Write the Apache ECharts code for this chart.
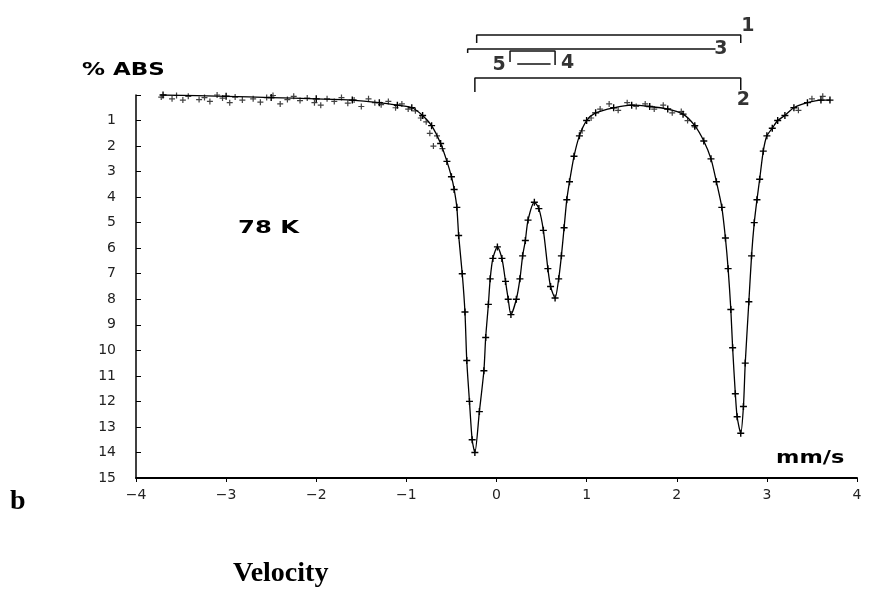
<!DOCTYPE html>
<html>
<head>
<meta charset="utf-8">
<script src="https://cdn.jsdelivr.net/npm/echarts@6/dist/echarts.min.js"></script>
<style>
  html, body { margin: 0; padding: 0; background: #fff; }
  #chart { width: 869px; height: 595px; }
</style>
</head>
<body>
<div id="chart"></div>
<script>
// velocity (mm/s) -> % absorption, fitted curve
const fitVelocity = [-3.7, -3.0, -2.5, -2.0, -1.6, -1.3, -1.1, -0.94, -0.82, -0.72, -0.62, -0.55, -0.5, -0.47, -0.44, -0.42, -0.38, -0.35, -0.33, -0.30, -0.27, -0.24, -0.19, -0.14, -0.12, -0.09, -0.07, -0.04, 0.01, 0.06, 0.10, 0.13, 0.16, 0.22, 0.26, 0.29, 0.32, 0.35, 0.42, 0.47, 0.52, 0.57, 0.60, 0.65, 0.69, 0.72, 0.75, 0.78, 0.81, 0.86, 0.92, 1.0, 1.1, 1.3, 1.5, 1.7, 1.9, 2.07, 2.2, 2.3, 2.38, 2.44, 2.5, 2.54, 2.57, 2.6, 2.62, 2.65, 2.67, 2.71, 2.74, 2.76, 2.80, 2.83, 2.86, 2.89, 2.92, 2.96, 3.0, 3.06, 3.12, 3.2, 3.3, 3.45, 3.6, 3.7];
const fitAbs = [0.0, 0.05, 0.1, 0.15, 0.2, 0.3, 0.4, 0.5, 0.8, 1.2, 1.9, 2.6, 3.2, 3.7, 4.4, 5.5, 7.0, 8.5, 10.4, 12.0, 13.5, 14.0, 12.4, 10.8, 9.5, 8.2, 7.2, 6.4, 5.95, 6.4, 7.3, 8.0, 8.6, 8.0, 7.2, 6.3, 5.7, 4.9, 4.2, 4.45, 5.3, 6.8, 7.5, 7.95, 7.2, 6.3, 5.2, 4.1, 3.4, 2.4, 1.6, 1.0, 0.7, 0.5, 0.4, 0.45, 0.55, 0.75, 1.2, 1.8, 2.5, 3.4, 4.4, 5.6, 6.8, 8.4, 9.9, 11.7, 12.6, 13.25, 12.2, 10.5, 8.1, 6.3, 5.0, 4.1, 3.3, 2.2, 1.6, 1.3, 1.0, 0.8, 0.5, 0.3, 0.2, 0.2];

// scattered measured points off the fit (baseline noise)
const noiseVelocity = [-3.78, -3.72, -3.66, -3.6, -3.55, -3.48, -3.42, -3.36, -3.3, -3.24, -3.18, -3.1, -3.04, -2.96, -2.9, -2.82, -2.76, -2.7, -2.62, -2.55, -2.48, -2.4, -2.32, -2.25, -2.18, -2.1, -2.02, -1.95, -1.88, -1.8, -1.72, -1.65, -1.58, -1.5, -1.42, -1.35, -1.28, -1.2, -1.12, -1.05, -0.98, -0.9, -0.84, -0.78, -0.74, -0.7, -0.66, -0.6, 0.95, 1.05, 1.15, 1.25, 1.35, 1.45, 1.55, 1.65, 1.75, 1.85, 1.95, 2.05, 2.12, 2.2, 3.35, 3.5, 3.62];
const noiseAbs = [-0.05, 0.08, -0.1, 0.15, 0.02, 0.2, 0.05, -0.08, 0.18, 0.1, 0.25, 0.0, 0.12, 0.3, 0.08, 0.2, -0.05, 0.15, 0.28, 0.1, 0.02, 0.35, 0.18, 0.05, 0.22, 0.12, 0.3, 0.4, 0.15, 0.25, 0.1, 0.32, 0.2, 0.45, 0.15, 0.3, 0.38, 0.25, 0.5, 0.35, 0.55, 0.62, 0.9, 1.05, 1.5, 2.0, 1.6, 2.1, 1.4, 0.9, 0.55, 0.35, 0.6, 0.3, 0.45, 0.35, 0.55, 0.4, 0.7, 0.65, 1.0, 1.25, 0.6, 0.15, 0.05];

// line-assignment brackets above the plot: from, to, level, leg ends
const bracketNames = ['1', '3', '54', '2'];
const bracketFrom = [-0.22, -0.32, 0.15, -0.24];
const bracketTo = [2.71, 2.43, 0.65, 2.71];
const bracketLevel = [35, 49, 51, 78];
const bracketLeftLeg = [43, 53, 62, 92];
const bracketRightLeg = [43, 49, 65, 90];
const arrowFrom = 0.23, arrowTo = 0.60, arrowLevel = 64;

const labelTexts = ['1', '3', '5', '4', '2'];
const labelVelocity = [2.79, 2.49, 0.03, 0.79, 2.74];
const labelLevel = [26, 49, 65, 63, 100];

const chart = echarts.init(document.getElementById('chart'));

const plusSymbol = 'path://M2,0H3V2H5V3H3V5H2V3H0V2H2Z';

const bracketSeries = bracketNames.map((name, i) => ({
  type: 'line',
  xAxisIndex: 1,
  yAxisIndex: 1,
  symbol: 'none',
  silent: true,
  lineStyle: { color: '#111', width: 1.5 },
  data: [
    [bracketFrom[i], bracketLeftLeg[i]],
    [bracketFrom[i], bracketLevel[i]],
    [bracketTo[i], bracketLevel[i]],
    [bracketTo[i], bracketRightLeg[i]],
  ],
}));

// 가로로 넓은 원본 글꼴 흉내
const wideText = (text, x, y, size, sx) => ({
  type: 'text',
  x: x,
  y: y,
  scaleX: sx,
  style: { text: text, font: 'bold ' + size + 'px "DejaVu Sans"', fill: '#000', verticalAlign: 'top' },
});

const option = {
  animation: false,
  backgroundColor: '#fff',
  grid: [
    { left: 136, right: 12, top: 95, bottom: 117 },
    { left: 136, right: 12, top: 0, height: 110 },
  ],
  xAxis: [
    {
      type: 'value',
      min: -4,
      max: 4,
      interval: 1,
      axisLine: { onZero: false, lineStyle: { color: '#000', width: 2 } },
      axisTick: { show: true, length: 4, lineStyle: { color: '#000' } },
      axisLabel: {
        color: '#222',
        fontFamily: 'DejaVu Sans',
        fontSize: 14,
        margin: 10,
        formatter: (v) => (v < 0 ? '−' + Math.abs(v) : String(v)),
      },
      splitLine: { show: false },
    },
    { type: 'value', gridIndex: 1, min: -4, max: 4, show: false },
  ],
  yAxis: [
    {
      type: 'value',
      inverse: true,
      min: 0,
      max: 15,
      interval: 1,
      axisLine: { show: true, onZero: false, lineStyle: { color: '#000', width: 1.5 } },
      axisTick: { show: true, inside: true, length: 5, lineStyle: { color: '#000' } },
      axisLabel: {
        color: '#222',
        fontFamily: 'DejaVu Sans',
        fontSize: 14,
        margin: 20,
        formatter: (v) => (v === 0 ? '' : String(v)),
      },
      splitLine: { show: false },
    },
    { type: 'value', gridIndex: 1, inverse: true, min: 0, max: 110, show: false },
  ],
  graphic: [
    wideText('% ABS', 82, 62, 17, 1.35),
    wideText('78 K', 238, 219, 18, 1.35),
    wideText('mm/s', 776, 450, 17, 1.32),
    { type: 'text', left: 10, top: 488, style: { text: 'b', font: 'bold 28px "Liberation Serif"', fill: '#000' } },
    { type: 'text', left: 233, top: 560, style: { text: 'Velocity', font: 'bold 28px "Liberation Serif"', fill: '#000' } },
  ],
  series: [
    {
      name: 'noise',
      type: 'scatter',
      symbol: plusSymbol,
      symbolSize: 6,
      itemStyle: { color: '#111' },
      data: noiseVelocity.map((v, i) => [v, noiseAbs[i]]),
    },
    {
      name: 'fit',
      type: 'line',
      smooth: 0.25,
      symbol: plusSymbol,
      symbolSize: 7,
      showSymbol: true,
      itemStyle: { color: '#000' },
      lineStyle: { color: '#000', width: 1.3 },
      data: fitVelocity.map((v, i) => [v, fitAbs[i]]),
    },
    ...bracketSeries,
    {
      type: 'line',
      xAxisIndex: 1,
      yAxisIndex: 1,
      symbol: 'none',
      silent: true,
      lineStyle: { color: '#111', width: 1.5 },
      data: [[arrowFrom, arrowLevel], [arrowTo, arrowLevel]],
    },
    {
      type: 'scatter',
      xAxisIndex: 1,
      yAxisIndex: 1,
      symbolSize: 0,
      silent: true,
      label: {
        show: true,
        position: 'inside',
        formatter: (p) => p.data[2],
        color: '#000',
        fontFamily: 'DejaVu Sans',
        fontWeight: 'bold',
        fontSize: 19,
      },
      data: labelTexts.map((t, i) => [labelVelocity[i], labelLevel[i], t]),
    },
  ],
};

chart.setOption(option);
</script>
</body>
</html>
